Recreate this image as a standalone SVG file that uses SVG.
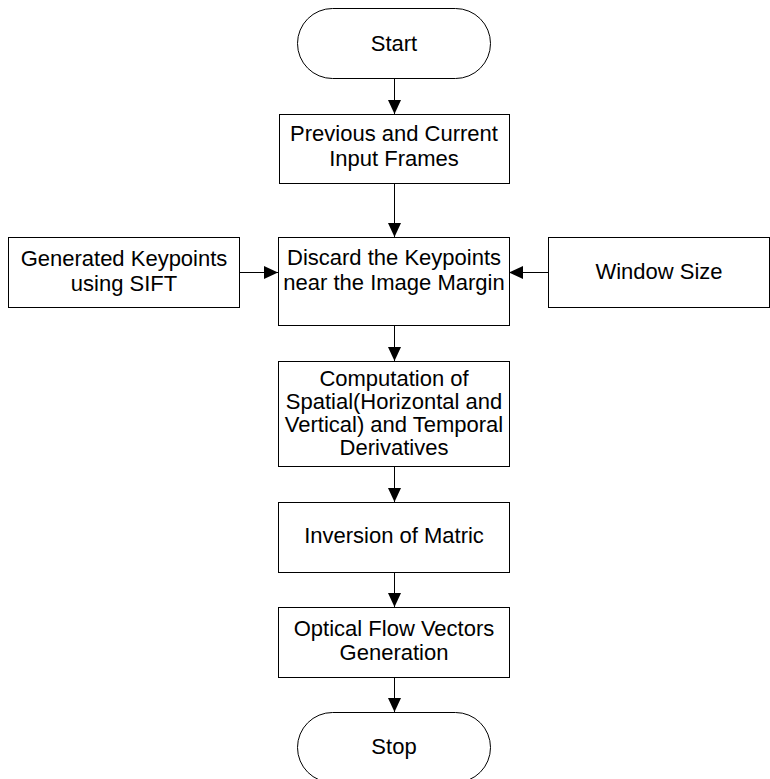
<svg xmlns="http://www.w3.org/2000/svg" width="770" height="779" viewBox="0 0 770 779">
<style>
.b{fill:#fff;stroke:#000;stroke-width:1}
.t{font-family:"Liberation Sans",Arial,sans-serif;font-size:22px;fill:#000;text-anchor:middle}
.c{stroke:#000;stroke-width:1;fill:none;marker-end:url(#a)}
</style>
<defs>
<marker id="a" markerWidth="14" markerHeight="14" refX="14" refY="7" viewBox="0 0 14 14" orient="auto" markerUnits="userSpaceOnUse">
<path d="M0,0.5 L14,7 L0,13.5 Z" fill="#000"/>
</marker>
</defs>
<rect width="770" height="779" fill="#fff"/>
<g id="connectors">
<line class="c" x1="394.5" y1="78" x2="394.5" y2="114"/>
<line class="c" x1="394.5" y1="183" x2="394.5" y2="237"/>
<line class="c" x1="239" y1="272.5" x2="278" y2="272.5"/>
<line class="c" x1="548" y1="272.5" x2="509" y2="272.5"/>
<line class="c" x1="394.5" y1="325" x2="394.5" y2="361"/>
<line class="c" x1="394.5" y1="466" x2="394.5" y2="502"/>
<line class="c" x1="394.5" y1="572" x2="394.5" y2="607"/>
<line class="c" x1="394.5" y1="677" x2="394.5" y2="712"/>
</g>
<g id="start">
<rect class="b" x="297.5" y="8.5" width="193" height="70" rx="35" ry="35"/>
<text class="t" x="394" y="51">Start</text>
</g>
<g id="frames">
<rect class="b" x="279.5" y="114.5" width="230" height="69"/>
<text class="t" x="394" y="141">Previous and Current</text>
<text class="t" x="394" y="166">Input Frames</text>
</g>
<g id="sift">
<rect class="b" x="8.5" y="237.5" width="231" height="70"/>
<text class="t" x="124" y="266">Generated Keypoints</text>
<text class="t" x="124" y="291">using SIFT</text>
</g>
<g id="discard">
<rect class="b" x="278.5" y="237.5" width="231" height="88"/>
<text class="t" x="394" y="265">Discard the Keypoints</text>
<text class="t" x="394" y="290">near the Image Margin</text>
</g>
<g id="window">
<rect class="b" x="548.5" y="237.5" width="221" height="70"/>
<text class="t" x="659" y="279">Window Size</text>
</g>
<g id="derivatives">
<rect class="b" x="278.5" y="361.5" width="231" height="105"/>
<text class="t" x="394" y="386">Computation of</text>
<text class="t" x="394" y="409">Spatial(Horizontal and</text>
<text class="t" x="394" y="432">Vertical) and Temporal</text>
<text class="t" x="394" y="455">Derivatives</text>
</g>
<g id="inversion">
<rect class="b" x="278.5" y="502.5" width="231" height="70"/>
<text class="t" x="394" y="543">Inversion of Matric</text>
</g>
<g id="optical">
<rect class="b" x="278.5" y="607.5" width="231" height="70"/>
<text class="t" x="394" y="636">Optical Flow Vectors</text>
<text class="t" x="394" y="660">Generation</text>
</g>
<g id="stop">
<rect class="b" x="297.5" y="712.5" width="193" height="70" rx="35" ry="35"/>
<text class="t" x="394" y="754">Stop</text>
</g>
</svg>
